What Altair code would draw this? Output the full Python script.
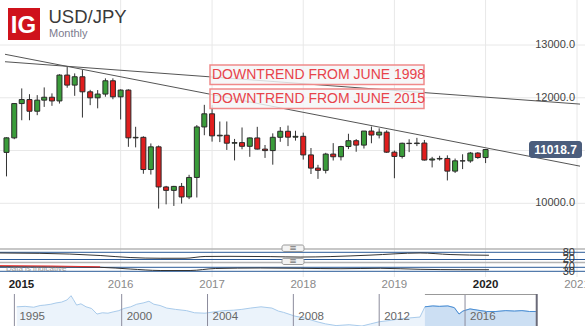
import altair as alt
import pandas as pd

# ---------------- data ----------------
months = pd.date_range("2014-10-01", "2020-01-01", freq="MS").strftime("%Y-%m-%d").tolist()

opens = [10965, 11240, 11890,
         11966, 11745, 11955, 12010, 11940, 12430, 12240, 12398, 12113, 11999, 12070, 12322,
         12018, 12146, 11240, 11250, 10640, 11070, 10310, 10245, 10320, 10120, 10490, 11447,
         11696, 11278, 11290, 11139, 11150, 11080, 11239, 11027, 10999, 11251, 11365, 11253,
         11269, 10917, 10667, 10625, 10933, 10882, 11076, 11186, 11103, 11369, 11294, 11348,
         10969, 10888, 11138, 11132, 11142, 10820, 10840, 10850, 10610, 10805, 10803, 10952,
         10867]
closes = [11240, 11890, 11966,
          11745, 11955, 12010, 11940, 12430, 12240, 12398, 12113, 11999, 12070, 12322, 12018,
          12146, 11240, 11250, 10640, 11070, 10310, 10245, 10320, 10120, 10490, 11447, 11696,
          11278, 11290, 11139, 11150, 11080, 11239, 11027, 10999, 11251, 11365, 11253, 11269,
          10917, 10667, 10625, 10933, 10882, 11076, 11186, 11103, 11369, 11294, 11348, 10969,
          10888, 11138, 11132, 11142, 10820, 10840, 10850, 10610, 10805, 10803, 10952, 10867,
          11018.7]
highs = [11250, 11898, 12177,
         12068, 12050, 12196, 12083, 12446, 12590, 12462, 12525, 12150, 12146, 12368, 12368,
         12160, 12160, 11450, 11270, 11134, 11095, 10330, 10330, 10385, 10540, 11483, 11866,
         11861, 11550, 11551, 11220, 11437, 11247, 11449, 11105, 11326, 11445, 11473, 11375,
         11339, 11048, 10729, 10957, 11140, 11090, 11318, 11216, 11370, 11455, 11421, 11383,
         11000, 11149, 11214, 11240, 11200, 10880, 10900, 10909, 10848, 10929, 10973, 10970,
         11029]
lows = [10510, 11215, 11574,
        11574, 11670, 11827, 11847, 11890, 12190, 12037, 11625, 11860, 11800, 12020, 11972,
        11589, 11070, 11060, 10560, 10545, 9900, 9980, 9950, 9995, 10080, 10110, 11290,
        11169, 11160, 11011, 10813, 11024, 10881, 11020, 10860, 10732, 11165, 11084, 11188,
        10828, 10555, 10463, 10566, 10811, 10812, 11027, 10977, 11038, 11138, 11230, 10955,
        10475, 10849, 10970, 11084, 10810, 10680, 10810, 10433, 10575, 10648, 10768, 10843,
        10762]

last_price = [11018.7]
grid_ticks = [10000, 11000, 12000, 13000]
label_ticks = [10000, 12000, 13000]   # 11000.0 sits hidden under the price box
grid_years = ["2016-01-01", "2017-01-01", "2018-01-01", "2019-01-01", "2020-01-01", "2021-01-01"]
reg_year_dates = ["2016-01-01", "2017-01-01", "2018-01-01", "2019-01-01", "2021-01-01"]
reg_year_labels = ["2016", "2017", "2018", "2019", "2021"]

trend_name = ["1998", "1998", "2015", "2015"]
trend_date = ["2014-09-25", "2021-01-13", "2014-09-25", "2021-01-13"]
trend_price = [12683, 11880, 12824, 10704]

oscA_dates = ["2014-09-25", "2015-03-01", "2015-06-27", "2015-10-24", "2016-02-19", "2016-06-16",
              "2016-09-22", "2016-12-10", "2017-03-18", "2017-08-23", "2017-12-19", "2018-04-16",
              "2018-09-20", "2019-04-05", "2019-08-01", "2020-01-01"]
oscA_vals = [76, 73, 67, 55, 38, 32, 32, 47, 48, 46, 42, 46, 58, 76, 63, 57]

oscB_dates = ["2014-09-25", "2015-04-10", "2015-10-24", "2016-02-19", "2016-06-16", "2016-10-12",
              "2017-01-19", "2017-07-15", "2017-12-19", "2018-05-25", "2018-10-30", "2019-04-05",
              "2019-09-10", "2020-01-01"]
oscB_vals = [76, 75, 70, 53, 38, 38, 58, 63, 60, 56, 60, 50, 46, 46]
oscB_red_dates = ["2014-09-25", "2015-04-10", "2015-10-24"]
oscB_red_vals = [87, 83, 75]

nav_year = [1995.11, 1995.5, 1995.9, 1996.2, 1996.42, 1996.7, 1996.94, 1997.2, 1997.45, 1997.64,
            1997.75, 1997.9, 1998.1, 1998.34, 1998.6, 1998.85, 1999.1, 1999.36, 1999.6, 1999.87,
            2000.1, 2000.42, 2000.7, 2001.0, 2001.27, 2001.5, 2001.79, 2002.1, 2002.5, 2003.02,
            2003.4, 2003.88, 2004.3, 2004.76, 2005.2, 2005.6, 2006.0, 2006.49, 2007.0, 2007.3,
            2007.54, 2008.08, 2008.5, 2009.1, 2009.5, 2009.99, 2010.6, 2011.2, 2011.6, 2012.01,
            2012.5, 2013.0, 2013.43, 2013.9, 2014.13, 2014.5, 2014.8, 2015.2, 2015.5, 2015.72,
            2015.9, 2016.23, 2016.6, 2017.0, 2017.44, 2017.9, 2018.3, 2018.65, 2019.0, 2019.3]
nav_val = [120, 121, 119, 123, 124, 126, 129, 131, 136, 146,
           137, 124, 127, 120, 116, 103, 106, 105, 108, 111,
           116, 120, 126, 129, 133, 126, 123, 117, 114, 111,
           106, 105, 108, 111, 112, 114, 117, 120, 117, 110,
           107, 98, 94, 85, 80, 76, 78, 75, 80, 85,
           88, 92, 94, 96, 120, 122, 121, 122, 118, 103,
           110, 115, 112, 109, 109, 111, 110, 111, 109, 109]
nav_label_years = [1995, 2000, 2004, 2008, 2012, 2016]
nav_sel = [2014.13]
nav_sel_end = [2019.34]

# ---------------- styles ----------------
W, H = 585, 326
FONT = "Liberation Sans"
GREEN, RED = "#3a9c3a", "#e01e1e"
GRID = "#e8e8e8"
BLUE = "#2a5a98"

xs = alt.Scale(type="utc",
               domain=[alt.DateTime(year=2014, month=9, date=25, utc=True),
                       alt.DateTime(year=2021, month=1, date=13, utc=True)],
               range=[0, W])
ys = alt.Scale(domain=[10000, 13000], range=[203.3, 45], zero=False, nice=False)

candles = pd.DataFrame({"date": months, "open": opens, "high": highs, "low": lows, "close": closes})
candles["dir"] = ["up" if c >= o else "down" for o, c in zip(opens, closes)]
one = pd.DataFrame({"a": [0]})

X = lambda f: alt.X(f, type="temporal", scale=xs, axis=None)
Y = lambda f: alt.Y(f, type="quantitative", scale=ys, axis=None)

hgrid = alt.Chart(pd.DataFrame({"v": grid_ticks})).mark_rule(color=GRID, strokeWidth=1).encode(
    y=Y("v"), x=alt.value(0), x2=alt.value(W))
vgrid = alt.Chart(pd.DataFrame({"d": grid_years})).mark_rule(color=GRID, strokeWidth=1).encode(
    x=X("d"), y=alt.value(0), y2=alt.value(277))
ylabels = alt.Chart(pd.DataFrame({"v": label_ticks})).mark_text(
    align="right", baseline="middle", fontSize=11, color="#444", font=FONT).encode(
    y=Y("v"), x=alt.value(575), text=alt.Text("v:Q", format=".1f"))

wicks = alt.Chart(candles).mark_rule(color="#333", strokeWidth=1).encode(
    x=X("date"), y=Y("low"), y2=alt.Y2("high"))
bodies = alt.Chart(candles).mark_bar(size=5, stroke="#2a2a2a", strokeWidth=1).encode(
    x=X("date"), y=Y("open"), y2=alt.Y2("close"),
    color=alt.Color("dir:N", scale=alt.Scale(domain=["up", "down"], range=[GREEN, RED]), legend=None))

trend = alt.Chart(pd.DataFrame({"name": trend_name, "date": trend_date, "price": trend_price})).mark_line(
    color="#555", strokeWidth=1).encode(x=X("date"), y=Y("price"), detail="name:N")

def note(y0, y1, txt):
    box = alt.Chart(one).mark_rect(fill="#f4f5f7", fillOpacity=0.82, stroke="#f08a8a", strokeWidth=1.5).encode(
        x=alt.value(210), x2=alt.value(424), y=alt.value(y0), y2=alt.value(y1))
    t = alt.Chart(one).mark_text(align="left", baseline="middle", fontSize=14, color="#e8434b", font=FONT,
                                 text=txt).encode(x=alt.value(212), y=alt.value((y0 + y1) / 2 + 0.5))
    return [box, t]

pbox = alt.Chart(pd.DataFrame({"p": last_price})).mark_tick(
    orient="horizontal", thickness=17, size=53, cornerRadius=3, color="#4b5d7c", opacity=1).encode(
    y=Y("p"), x=alt.value(555.5))
ptext = alt.Chart(pd.DataFrame({"p": last_price})).mark_text(
    fontSize=12, fontWeight="bold", color="white", font=FONT, baseline="middle").encode(
    y=Y("p"), x=alt.value(555.5), text=alt.Text("p:Q", format=".1f"))

logo = alt.Chart(one).mark_rect(fill="#cf121b").encode(
    x=alt.value(8), x2=alt.value(40), y=alt.value(8), y2=alt.value(40))
logo_t = alt.Chart(one).mark_text(text="IG", fontSize=24, fontWeight="bold", color="white", font=FONT,
                                  baseline="middle").encode(x=alt.value(23.5), y=alt.value(25.5))
title = alt.Chart(one).mark_text(text="USD/JPY", fontSize=18.5, color="#3a3a3a", font=FONT, align="left",
                                 baseline="middle").encode(x=alt.value(48.5), y=alt.value(16.5))
sub = alt.Chart(one).mark_text(text="Monthly", fontSize=11, color="#7b7b8e", font=FONT, align="left",
                               baseline="middle").encode(x=alt.value(49), y=alt.value(34))

xl_reg = alt.Chart(pd.DataFrame({"d": reg_year_dates, "t": reg_year_labels})).mark_text(
    fontSize=11.5, color="#8a8a8a", font=FONT, baseline="middle").encode(
    x=X("d"), y=alt.value(285), text="t:N")
xl_2015 = alt.Chart(pd.DataFrame({"d": ["2015-01-01"], "t": ["2015"]})).mark_text(
    fontSize=11.5, fontWeight="bold", color="#222", font=FONT, baseline="middle", dx=-8).encode(
    x=X("d"), y=alt.value(285), text="t:N")
xl_2020 = alt.Chart(pd.DataFrame({"d": ["2020-01-01"], "t": ["2020"]})).mark_text(
    fontSize=11.5, fontWeight="bold", color="#222", font=FONT, baseline="middle").encode(
    x=X("d"), y=alt.value(285), text="t:N")

# oscillator panel decorations
def hline(y, color, w):
    return alt.Chart(one).mark_rule(color=color, strokeWidth=w).encode(
        x=alt.value(0), x2=alt.value(W), y=alt.value(y))

osc_deco = [hline(249, "#b4b4b4", 1.5), hline(262.5, "#b4b4b4", 1.5),
            hline(252.3, BLUE, 1), hline(259.5, BLUE, 1), hline(267.3, BLUE, 1), hline(271.3, BLUE, 1)]
osc_lbls = []
for txt, yy in [("80", 252.5), ("20", 258.5), ("70", 267), ("30", 272)]:
    osc_lbls.append(alt.Chart(one).mark_text(text=txt, fontSize=11, color="#333", font=FONT, align="right",
                                             baseline="middle").encode(x=alt.value(575), y=alt.value(yy)))
handles = []
for y0, y1 in [(245, 251.5), (258.3, 264.5)]:
    handles.append(alt.Chart(one).mark_rect(fill="#f3f3f3", stroke="#999", strokeWidth=1, cornerRadius=2).encode(
        x=alt.value(282), x2=alt.value(304), y=alt.value(y0), y2=alt.value(y1)))
    handles.append(alt.Chart(one).mark_text(text="≡", fontSize=9, color="#777", font="DejaVu Sans",
                                            baseline="middle").encode(x=alt.value(293), y=alt.value((y0 + y1) / 2)))
indic = alt.Chart(one).mark_text(text="Data is indicative", fontSize=8, color="#9a9a9a", font=FONT, align="left",
                                 baseline="middle").encode(x=alt.value(6), y=alt.value(269))

main = alt.layer(hgrid, vgrid, ylabels, *osc_deco, indic, wicks, bodies, trend,
                 *note(65, 84.5, "DOWNTREND FROM JUNE 1998"), *note(89, 108.5, "DOWNTREND FROM JUNE 2015"),
                 pbox, ptext, logo, logo_t, title, sub, xl_reg, xl_2015, xl_2020, *osc_lbls, *handles)

# oscillators
ysA = alt.Scale(domain=[0, 100], range=[262.1, 250.1], zero=False, nice=False)
oscA = alt.Chart(pd.DataFrame({"d": oscA_dates, "v": oscA_vals})).mark_line(
    color="#333", strokeWidth=1, interpolate="monotone").encode(
    x=X("d"), y=alt.Y("v:Q", scale=ysA, axis=None))
ysB = alt.Scale(domain=[0, 100], range=[274.3, 264.3], zero=False, nice=False)
oscB = alt.layer(
    alt.Chart(pd.DataFrame({"d": oscB_dates, "v": oscB_vals})).mark_line(
        color="#333", strokeWidth=1, interpolate="monotone").encode(
        x=X("d"), y=alt.Y("v:Q", scale=ysB, axis=None)),
    alt.Chart(pd.DataFrame({"d": oscB_red_dates, "v": oscB_red_vals})).mark_line(
        color="#e83030", strokeWidth=1, interpolate="monotone").encode(
        x=X("d"), y=alt.Y("v:Q", scale=ysB, axis=None)),
)

# navigator
nxs = alt.Scale(domain=[1994.33, 2021.59], range=[0, W], zero=False, nice=False)
nys = alt.Scale(domain=[75, 150], range=[326, 294], zero=False, nice=False)
navdf = pd.DataFrame({"yr": nav_year, "v": nav_val})
nav_all = alt.Chart(navdf).mark_area(color="#e3eef9", line={"color": "#a9cbeb", "strokeWidth": 1}).encode(
    x=alt.X("yr:Q", scale=nxs, axis=None), y=alt.Y("v:Q", scale=nys, axis=None), y2=alt.value(326))
nav_selA = alt.Chart(navdf).transform_filter(alt.datum.yr >= nav_sel[0]).mark_area(
    color="#bfd6ef", line={"color": "#4a8ed4", "strokeWidth": 1}).encode(
    x=alt.X("yr:Q", scale=nxs, axis=None), y=alt.Y("v:Q", scale=nys, axis=None), y2=alt.value(326))
nav_lines = alt.Chart(pd.DataFrame({"yr": nav_label_years})).mark_rule(color="#8c8c9c", strokeWidth=1).encode(
    x=alt.X("yr:Q", scale=nxs, axis=None), y=alt.value(294), y2=alt.value(326))
nav_text = alt.Chart(pd.DataFrame({"yr": nav_label_years, "t": [str(v) for v in nav_label_years]})).mark_text(
    align="left", baseline="middle", fontSize=11.5, color="#666", font=FONT, dx=5).encode(
    x=alt.X("yr:Q", scale=nxs, axis=None), y=alt.value(317), text="t:N")
sel_df = pd.DataFrame({"a": nav_sel, "b": nav_sel_end})
nav_top = alt.Chart(sel_df).mark_rule(color="#999", strokeWidth=1).encode(
    x=alt.X("a:Q", scale=nxs, axis=None), x2="b:Q", y=alt.value(294.5))
nav_end = alt.Chart(sel_df).mark_rule(color="#6a6a78", strokeWidth=2).encode(
    x=alt.X("b:Q", scale=nxs, axis=None), y=alt.value(294), y2=alt.value(326))
nav = alt.layer(nav_all, nav_selA, nav_lines, nav_text, nav_top, nav_end)

chart = alt.layer(main, oscA, oscB, nav).resolve_scale(x="independent", y="independent").properties(
    width=W, height=H, padding=0, autosize="none", background="white"
).configure_view(stroke=None)

chart.save("out.html", embed_options={"renderer": "svg", "actions": False})
